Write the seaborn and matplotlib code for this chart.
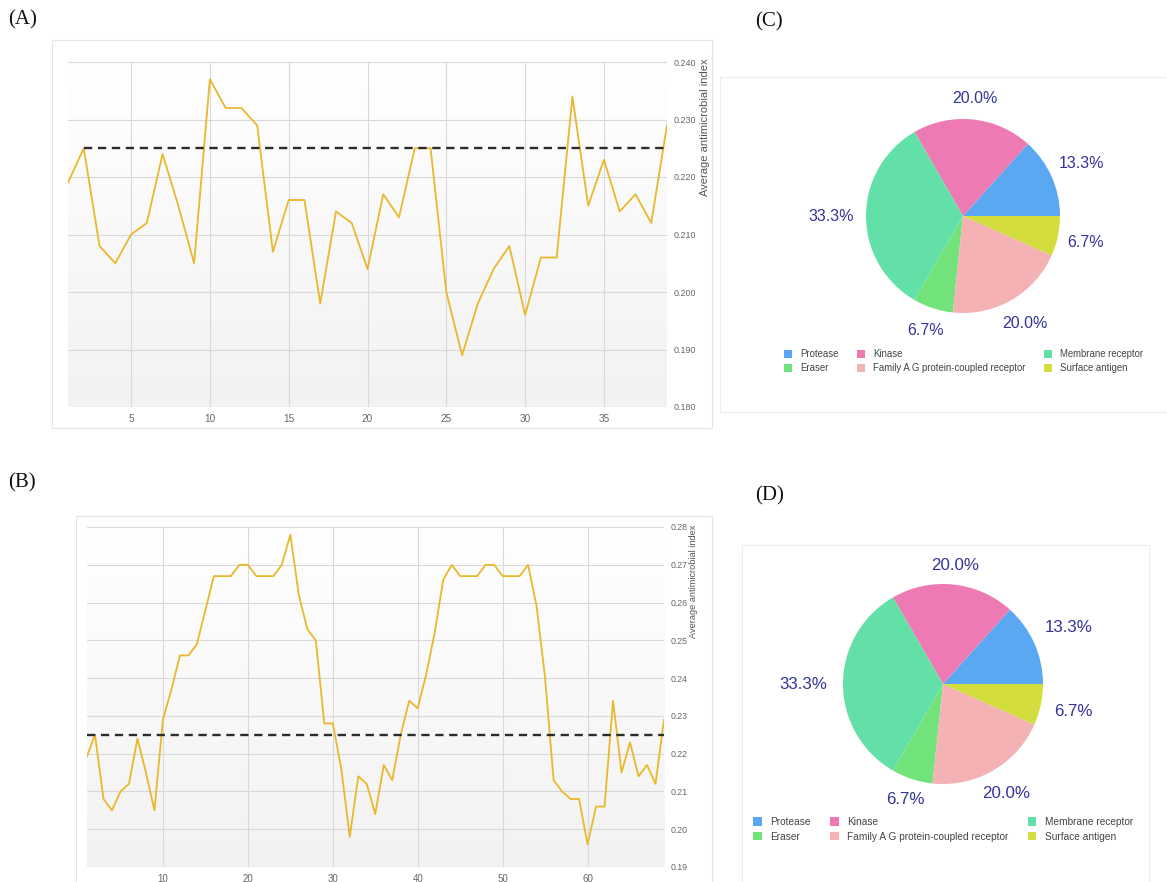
import numpy as np
import pandas as pd
import matplotlib
matplotlib.use("Agg")
import matplotlib.pyplot as plt
import seaborn as sns
from matplotlib.patches import Rectangle, Patch
from matplotlib.colors import LinearSegmentedColormap

# ---------------- data ----------------
a_values = [0.219, 0.225, 0.208, 0.205, 0.210, 0.212, 0.224, 0.215, 0.205, 0.237,
            0.232, 0.232, 0.229, 0.207, 0.216, 0.216, 0.198, 0.214, 0.212, 0.204,
            0.217, 0.213, 0.225, 0.225, 0.200, 0.189, 0.198, 0.204, 0.208, 0.196,
            0.206, 0.206, 0.234, 0.215, 0.223, 0.214, 0.217, 0.212, 0.229]
b_values = [0.219, 0.225, 0.208, 0.205, 0.210, 0.212, 0.224, 0.215, 0.205, 0.229,
            0.237, 0.246, 0.246, 0.249, 0.258, 0.267, 0.267, 0.267, 0.270, 0.270,
            0.267, 0.267, 0.267, 0.270, 0.278, 0.262, 0.253, 0.250, 0.228, 0.228,
            0.216, 0.198, 0.214, 0.212, 0.204, 0.217, 0.213, 0.225, 0.234, 0.232,
            0.241, 0.252, 0.266, 0.270, 0.267, 0.267, 0.267, 0.270, 0.270, 0.267,
            0.267, 0.267, 0.270, 0.259, 0.240, 0.213, 0.210, 0.208, 0.208, 0.196,
            0.206, 0.206, 0.234, 0.215, 0.223, 0.214, 0.217, 0.212, 0.229]
threshold = 0.225
a_xticks = [5, 10, 15, 20, 25, 30, 35]
a_yticks = [0.180, 0.190, 0.200, 0.210, 0.220, 0.230, 0.240]
b_xticks = [10, 20, 30, 40, 50, 60]
b_yticks = [0.19, 0.20, 0.21, 0.22, 0.23, 0.24, 0.25, 0.26, 0.27, 0.28]
y_title = "Average antimicrobial index"

pie_categories = ["Protease", "Kinase", "Membrane receptor", "Eraser",
                  "Family A G protein-coupled receptor", "Surface antigen"]
pie_counts = [2, 3, 5, 1, 3, 1]
pie_colors = ["#5BA8F2", "#EE7AB4", "#63E0A7", "#72E37A", "#F4B2B5", "#D3DE3E"]
panel_letters = ["(A)", "(B)", "(C)", "(D)"]

LINE_COLOR = "#EAB82C"
PCT_COLOR = "#33339A"

# label radial distances (style, in pie radii), per wedge
label_dist_c = [1.34, 1.22, 1.36, 1.24, 1.28, 1.29]
label_dist_d = [1.38, 1.19, 1.40, 1.21, 1.27, 1.33]

# ---------------- figure ----------------
W, H = 1167, 882
sns.set_style("white")
plt.rcParams['font.family'] = ['Liberation Sans', 'DejaVu Sans']
fig = plt.figure(figsize=(W / 100, H / 100), dpi=100)


def px_axes(x0, y0, x1, y1):
    return fig.add_axes([x0 / W, 1 - y1 / H, (x1 - x0) / W, (y1 - y0) / H])


def px_box(x0, y0, x1, y1, ec="#e4e4e4"):
    fig.patches.append(Rectangle((x0 / W, 1 - y1 / H), (x1 - x0) / W, (y1 - y0) / H,
                                 transform=fig.transFigure, fill=False, ec=ec, lw=0.8))


grad_cmap = LinearSegmentedColormap.from_list("g", ["#f2f2f2", "#ffffff"])


def line_panel(ax_px, values, xticks, yticks, fmt, xtick_fs, ytick_fs, dash_start,
               title_xy, title_fs):
    ax = px_axes(*ax_px)
    n = len(values)
    df = pd.DataFrame({"pos": np.arange(1, n + 1), "value": values})
    grad = np.linspace(0, 1, 200).reshape(-1, 1)
    ax.imshow(grad, extent=[1, n, yticks[0], yticks[-1]], aspect="auto",
              cmap=grad_cmap, origin="lower", zorder=0)
    sns.lineplot(data=df, x="pos", y="value", ax=ax, color=LINE_COLOR, lw=1.3, zorder=3)
    ax.hlines(threshold, dash_start, n, colors="#2b2b2b", lw=1.7,
              linestyles=(0, (3.5, 2.4)), zorder=4)
    ax.set_xlim(1, n)
    ax.set_ylim(yticks[0], yticks[-1])
    ax.set_xticks(xticks)
    ax.set_yticks(yticks)
    ax.set_yticklabels([fmt.format(v) for v in yticks])
    ax.yaxis.tick_right()
    ax.set_xlabel("")
    ax.set_ylabel("")
    ax.set_axisbelow(True)
    ax.grid(True, color="#d9d9d9", lw=0.8)
    for s in ax.spines.values():
        s.set_visible(False)
    ax.tick_params(length=0, colors="#666666", pad=5)
    ax.tick_params(axis="x", labelsize=xtick_fs)
    ax.tick_params(axis="y", labelsize=ytick_fs)
    fig.text(title_xy[0] / W, 1 - title_xy[1] / H, y_title, rotation=90,
             va="top", ha="center", fontsize=title_fs, color="#555555")
    return ax


def pie_panel(cx, cy, r, pct_fs, dists, leg_xy, leg_fs):
    size = 2.5 * r
    ax = px_axes(cx - size / 2, cy - size / 2, cx + size / 2, cy + size / 2)
    wedges, _, autotexts = ax.pie(pie_counts, colors=pie_colors, startangle=0,
                                  counterclock=True, autopct="%1.1f%%", pctdistance=1.3,
                                  wedgeprops=dict(lw=0),
                                  textprops=dict(color=PCT_COLOR, fontsize=pct_fs))
    for w, t, d in zip(wedges, autotexts, dists):
        ang = np.deg2rad((w.theta1 + w.theta2) / 2)
        t.set_position((d * np.cos(ang), d * np.sin(ang)))
    ax.set_xlim(-1.25, 1.25)
    ax.set_ylim(-1.25, 1.25)
    order = [0, 3, 1, 4, 2, 5]
    handles = [Patch(facecolor=pie_colors[i], edgecolor="none", label=pie_categories[i])
               for i in order]
    fig.legend(handles=handles, loc="upper left",
               bbox_to_anchor=(leg_xy[0] / W, 1 - leg_xy[1] / H), ncol=3,
               frameon=False, fontsize=leg_fs, handlelength=0.85, handleheight=0.85,
               handletextpad=0.85, columnspacing=1.9, labelspacing=0.45,
               borderpad=0, borderaxespad=0, labelcolor="#444444")
    return ax


# outer light boxes
px_box(52, 40, 712, 428)
px_box(76, 516, 712, 895)
px_box(720, 77, 1175, 412, ec="#eeeeee")
px_box(742, 545, 1149, 895, ec="#eeeeee")

line_panel((68, 62, 667, 407), a_values, a_xticks, a_yticks, "{:.3f}", 7.2, 6.4, 2,
           (705, 58), 8)
line_panel((86.5, 527, 664, 867), b_values, b_xticks, b_yticks, "{:.2f}", 7.0, 6.3, 1,
           (694, 525), 6.6)

pie_panel(963, 216, 97, 11.5, label_dist_c, (784, 349), 6.9)
pie_panel(943, 684, 100, 12.2, label_dist_d, (753, 817), 7.3)

# panel letters
for txt, (x, y) in zip(panel_letters, [(8, 20), (8, 483), (755, 22), (755, 496)]):
    fig.text(x / W, 1 - y / H, txt, ha="left", va="center", fontsize=15,
             family=["Liberation Serif", "DejaVu Serif"], color="#111111")

fig.savefig("out.png", dpi=100)
